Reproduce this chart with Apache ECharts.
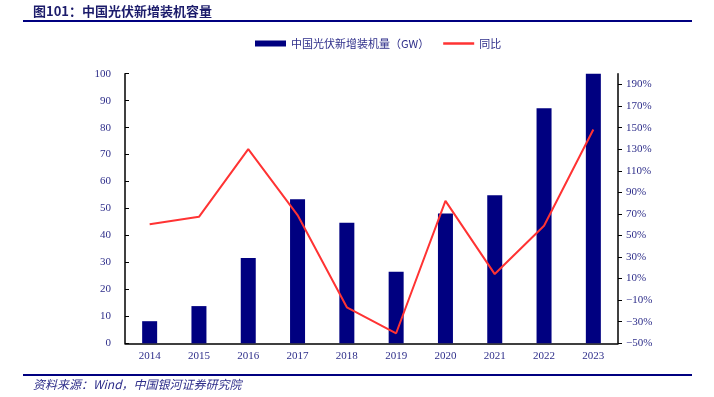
<!DOCTYPE html>
<html>
<head>
<meta charset="utf-8">
<script src="https://cdn.jsdelivr.net/npm/echarts@6/dist/echarts.min.js"></script>
<style>
  html, body { margin: 0; padding: 0; background: #fff; }
  #chart { width: 714px; height: 397px; }
</style>
</head>
<body>
<div id="chart"></div>
<script>
const years = ['2014', '2015', '2016', '2017', '2018', '2019', '2020', '2021', '2022', '2023']
// 新增装机量（GW）
const capacity = [8.2, 13.8, 31.6, 53.4, 44.7, 26.5, 48.1, 54.9, 87.2, 100]
// 同比（%）
const yoy = [60.3, 67.3, 130, 68.9, -16.6, -40.7, 82.1, 14.2, 59, 148.3]
const yoyMin = -50

const serif = '"Liberation Serif", "Noto Sans CJK SC", serif'
const navy = '#000080'
const labelColor = '#2e2e8a'

const chartsDom = echarts.init(document.getElementById('chart'))

const option = {
  animation: false,
  graphic: [
    {
      type: 'text',
      left: 33,
      top: 5,
      style: {
        text: '图101：中国光伏新增装机容量',
        font: 'bold 13px "Noto Sans CJK SC", sans-serif',
        fill: '#1c1c6b'
      }
    },
    {
      type: 'rect',
      shape: { x: 23, y: 20, width: 669, height: 2 },
      style: { fill: navy }
    },
    {
      type: 'rect',
      shape: { x: 23, y: 374, width: 669, height: 2 },
      style: { fill: navy }
    },
    {
      type: 'text',
      left: 33,
      top: 378,
      style: {
        text: '资料来源：Wind，中国银河证券研究院',
        font: 'italic 12px "Noto Sans CJK SC", serif',
        fill: '#2e2e8a'
      }
    }
  ],
  grid: {
    left: 125,
    right: 96,
    top: 73.7,
    bottom: 53.7
  },
  legend: {
    top: 38,
    left: 255,
    padding: 0,
    itemGap: 14,
    itemWidth: 31,
    itemHeight: 6,
    textStyle: {
      fontFamily: '"Noto Sans CJK SC", sans-serif',
      fontSize: 11,
      color: '#2e2e8a'
    },
    data: [
      { name: '中国光伏新增装机量（GW）', icon: 'rect' },
      { name: '同比', icon: 'path://M0,0 L31,0 L31,2.5 L0,2.5 Z', itemStyle: { color: '#ff3333' } }
    ]
  },
  xAxis: {
    type: 'category',
    data: years,
    axisLine: { lineStyle: { color: '#000', width: 1.5 } },
    axisTick: { show: false },
    axisLabel: {
      color: labelColor,
      fontFamily: serif,
      fontSize: 11,
      margin: 7
    }
  },
  yAxis: [
    {
      type: 'value',
      min: 0,
      max: 100,
      interval: 10,
      splitLine: { show: false },
      axisLine: { show: true, lineStyle: { color: '#000', width: 1.5 } },
      axisTick: { show: true, inside: true, length: 4, lineStyle: { color: '#000' } },
      axisLabel: {
        color: labelColor,
        fontFamily: serif,
        fontSize: 11,
        margin: 14
      }
    },
    {
      type: 'value',
      position: 'right',
      // 轴从 -50% 起，刻度间隔 20%，整体平移 50 以便刻度对齐
      min: 0,
      max: 250,
      interval: 20,
      splitLine: { show: false },
      axisLine: { show: true, lineStyle: { color: '#000', width: 1.5 } },
      axisTick: { show: true, length: 4, lineStyle: { color: '#000' } },
      axisLabel: {
        color: labelColor,
        fontFamily: serif,
        fontSize: 11,
        margin: 8,
        showMaxLabel: false,
        formatter: v => {
          const p = v + yoyMin
          return (p < 0 ? '−' + Math.abs(p) : p) + '%'
        }
      }
    }
  ],
  series: [
    {
      name: '中国光伏新增装机量（GW）',
      type: 'bar',
      barWidth: 15,
      itemStyle: { color: navy },
      data: capacity
    },
    {
      name: '同比',
      type: 'line',
      yAxisIndex: 1,
      showSymbol: false,
      lineStyle: { color: '#ff3333', width: 2 },
      itemStyle: { color: '#ff3333' },
      data: yoy.map(v => v - yoyMin)
    }
  ]
}
chartsDom.setOption(option)
</script>
</body>
</html>
